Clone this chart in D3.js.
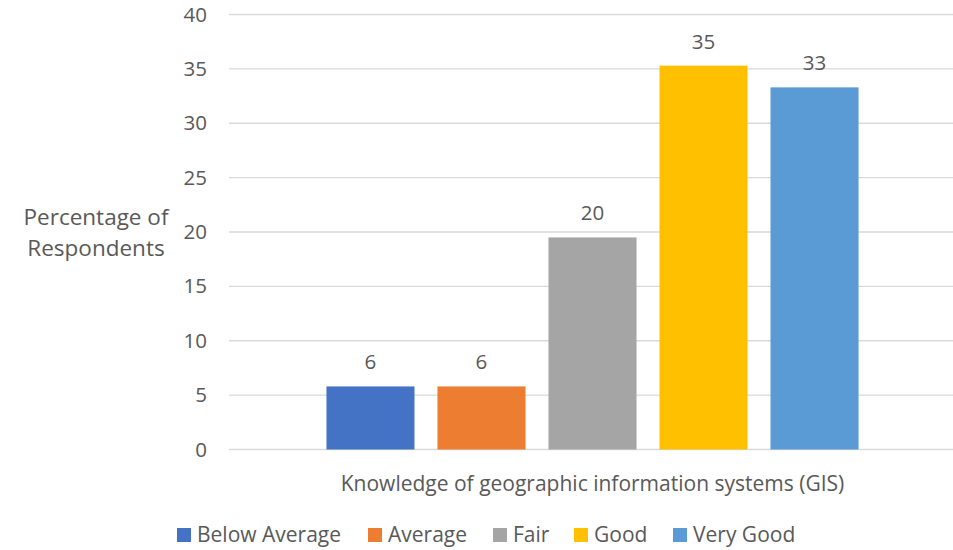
<!DOCTYPE html>
<html>
<head>
<meta charset="utf-8">
<script src="https://cdn.jsdelivr.net/npm/d3@7"></script>
<style>
  html, body { margin: 0; padding: 0; background: #fff; }
  svg text { font-family: "Open Sans", sans-serif; fill: #595959; }
</style>
</head>
<body>
<svg id="chart" width="953" height="550"></svg>
<script>
const series = ["Below Average", "Average", "Fair", "Good", "Very Good"];
const values = [5.8, 5.8, 19.5, 35.3, 33.3];
const valueLabels = ["6", "6", "20", "35", "33"];
const colors = ["#4472C4", "#ED7D31", "#A5A5A5", "#FFC000", "#5B9BD5"];
const yTicks = [0, 5, 10, 15, 20, 25, 30, 35, 40];
const categoryTitle = "Knowledge of geographic information systems (GIS)";
const yTitle = ["Percentage of", "Respondents"];

const svg = d3.select("#chart");
const plotLeft = 229, plotRight = 956, plotTop = 14.5, plotBottom = 449.5;

const x = d3.scaleBand().domain(series).range([plotLeft, plotRight])
  .paddingInner(0.207).paddingOuter(0.878);
const y = d3.scaleLinear().domain([0, 40]).range([plotBottom, plotTop]);

// gridlines
svg.append("g").selectAll("line").data(yTicks).join("line")
  .attr("x1", plotLeft).attr("x2", plotRight)
  .attr("y1", d => y(d)).attr("y2", d => y(d))
  .attr("stroke", "#d9d9d9").attr("stroke-width", 1.3);

// y axis tick labels
const yAxis = d3.axisLeft(y).tickValues(yTicks).tickSize(0).tickPadding(0);
const gy = svg.append("g").attr("transform", `translate(${207},0)`).call(yAxis);
gy.select(".domain").remove();
gy.selectAll("text").style("font-size", "20.5px").attr("fill", "#595959")
  .style("font-family", "'Open Sans', sans-serif");

// bars
svg.append("g").selectAll("rect").data(series).join("rect")
  .attr("x", d => x(d)).attr("width", x.bandwidth())
  .attr("y", (d, i) => y(values[i]))
  .attr("height", (d, i) => y(0) - y(values[i]))
  .attr("fill", (d, i) => colors[i]);

// data labels
svg.append("g").selectAll("text").data(series).join("text")
  .attr("x", d => x(d) + x.bandwidth() / 2)
  .attr("y", (d, i) => y(values[i]) - 17)
  .attr("text-anchor", "middle")
  .style("font-size", "20.5px")
  .attr("fill", "#404040")
  .text((d, i) => valueLabels[i]);

// x axis title
svg.append("text")
  .attr("x", (plotLeft + plotRight) / 2).attr("y", 491)
  .attr("text-anchor", "middle")
  .style("font-size", "21px")
  .text(categoryTitle);

// y axis title
svg.append("text")
  .attr("x", 96).attr("y", 225)
  .attr("text-anchor", "middle")
  .style("font-size", "22.5px")
  .selectAll("tspan").data(yTitle).join("tspan")
  .attr("x", 96).attr("dy", (d, i) => i === 0 ? 0 : 31)
  .text(d => d);

// legend
const legendX = [177, 368, 493, 574, 673];
const lg = svg.append("g").selectAll("g").data(series).join("g")
  .attr("transform", (d, i) => `translate(${legendX[i]},528)`);
lg.append("rect").attr("width", 14).attr("height", 14)
  .attr("fill", (d, i) => colors[i]);
lg.append("text").attr("x", 20).attr("y", 14)
  .style("font-size", "21px")
  .text(d => d);
</script>
</body>
</html>
